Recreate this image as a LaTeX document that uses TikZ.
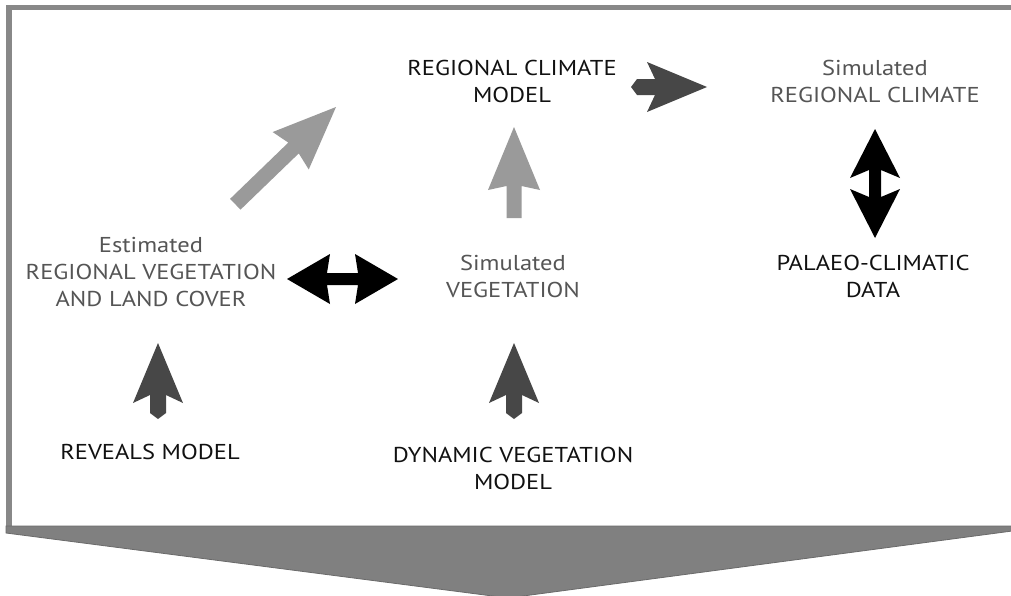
\documentclass[tikz,border=0pt]{standalone}
\usepackage{fontspec}
\setmainfont[FakeStretch=1.14]{PT Sans}
\definecolor{framegray}{HTML}{888888}
\definecolor{chevgray}{HTML}{808080}
\definecolor{chevedge}{HTML}{6A6A6A}
\definecolor{darkarr}{HTML}{474747}
\definecolor{lightarr}{HTML}{9A9A9A}
\definecolor{txtgray}{HTML}{555555}
\definecolor{txtblack}{HTML}{111111}
\tikzset{
  lbl/.style={align=center, inner sep=0pt, font=\fontsize{21.5}{27}\selectfont},
  blk/.style={lbl, text=txtblack},
  gry/.style={lbl, text=txtgray},
  pics/darkup/.style={code={
    \fill[darkarr] (0,0) -- (25,60) -- (8,52) -- (8,70) -- (0,76) -- (-8,70) -- (-8,52) -- (-25,60) -- cycle;}},
  pics/lightup/.style={code={
    \fill[lightarr] (0,0) -- (26,63) -- (7.5,59) -- (7.5,#1) -- (-7.5,#1) -- (-7.5,59) -- (-26,63) -- cycle;}},
  pics/dbl/.style n args={3}{code={
    \fill[black] (0,0) -- (25,#2) -- (6,#3) -- ({6},{#1-#3}) -- ({25},{#1-#2}) -- (0,#1)
      -- ({-25},{#1-#2}) -- ({-6},{#1-#3}) -- (-6,#3) -- (-25,#2) -- cycle;}},
}
\begin{document}
\begin{tikzpicture}[x=1pt,y=-1pt]
\useasboundingbox (0,0) rectangle (1011,595);
\fill[white] (0,0) rectangle (1011,595);
% frame
\fill[framegray] (6,5) rectangle (1015,10);
\fill[framegray] (6,5) rectangle (12,533);
% chevron
\fill[chevgray, draw=chevedge, line width=0.8pt] (6,526) -- (1016,526) -- (1016,530.5) -- (508,598) -- (6,533) -- cycle;

% labels
\node[blk] (rcm) at (512,81) {REGIONAL CLIMATE\\MODEL};
\node[gry] (simrc) at (875,81) {Simulated\\REGIONAL CLIMATE};
\node[gry] (est) at (151,272.5) {Estimated\\REGIONAL VEGETATION\\AND LAND COVER};
\node[gry] (simveg) at (513,276) {Simulated\\VEGETATION};
\node[blk] (palaeo) at (873,276) {PALAEO-CLIMATIC\\DATA};
\node[blk] (reveals) at (150,452) {REVEALS MODEL};
\node[blk] (dvm) at (513,468) {DYNAMIC VEGETATION\\MODEL};

% arrows
\pic[rotate=-90] at (707,87) {darkup};
\pic at (158,343) {darkup};
\pic at (514,343) {darkup};
\pic at (514,127) {lightup=91};
\pic[rotate=-46] at (336,107) {lightup=140};
\pic[rotate=-90] at (398,279) {dbl={111}{43}{40}};
\pic at (875,129) {dbl={109}{49}{41}};
\end{tikzpicture}
\end{document}
